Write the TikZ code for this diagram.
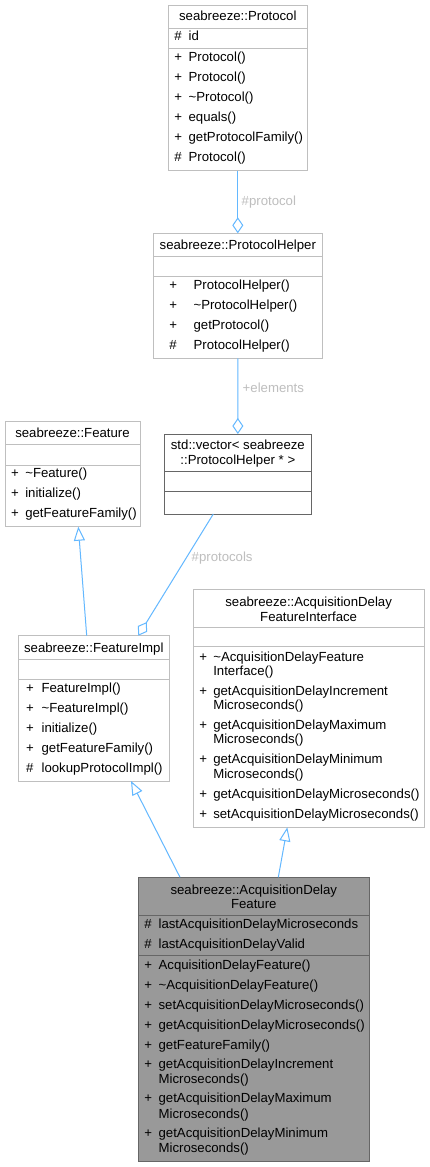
\documentclass[tikz,border=0pt]{standalone}
\usepackage{fontspec}
\setmainfont{Liberation Sans}
\usetikzlibrary{arrows.meta,calc}
\definecolor{bordL}{HTML}{BFBFBF}
\definecolor{bordD}{HTML}{666666}
\definecolor{fillD}{HTML}{999999}
\definecolor{edgeC}{HTML}{63B8FF}
\definecolor{lblC}{HTML}{BEBEBE}
\tikzset{
  txt/.style={font=\fontsize{13.2pt}{14.3pt}\selectfont, inner sep=0pt, outer sep=0pt, text=black},
  lbl/.style={txt, text=lblC, anchor=base west},
  boxL/.style={draw=bordL, line width=1pt, fill=white, rectangle, inner sep=0pt, outer sep=0pt, anchor=north west},
  boxD/.style={boxL, draw=bordD},
  boxF/.style={boxL, draw=bordD, fill=fillD},
  sepL/.style={draw=bordL, line width=1pt},
  sepD/.style={draw=bordD, line width=1pt},
  aggr/.style={draw=edgeC, line width=1pt, -{Diamond[open, length=16pt, width=11pt]}},
  inh/.style={draw=edgeC, line width=1pt, -{Triangle[open, length=14pt, width=11pt]}},
}
\newcommand\mrow[6]{\node[txt, anchor=base west] (#1) at (#2,#4) {\makebox[\dimexpr #3pt - #2pt\relax][l]{#5}#6};}
\newcommand\crow[4]{\node[txt, anchor=base west] (#1) at (#2,#3) {#4};}
\newcommand\ttl[4]{\node[txt, anchor=base] (#1) at (#2,#3) {#4};}
\begin{document}
\begin{tikzpicture}[x=1pt, y=-1pt]
\useasboundingbox (0,0) rectangle (429,1167);
\fill[white] (0,0) rectangle (429,1167);

% ---------- seabreeze::Protocol ----------
\node[boxL, minimum width=139pt, minimum height=165.7pt] (protocol) at (168.3,5) {};
\draw[sepL] (168.3,28.3) -- (307.3,28.3);
\draw[sepL] (168.3,48.3) -- (307.3,48.3);
\ttl{protocol-t}{237.8}{20.7}{seabreeze::Protocol}
\mrow{p-a1}{174.3}{188.6}{40.7}{\#}{id}
\mrow{p-m1}{174.3}{188.6}{61}{+}{Protocol()}
\mrow{p-m2}{174.3}{188.6}{81}{+}{Protocol()}
\mrow{p-m3}{174.3}{188.6}{101}{+}{\textasciitilde Protocol()}
\mrow{p-m4}{174.3}{188.6}{121}{+}{equals()}
\mrow{p-m5}{174.3}{188.6}{141}{+}{getProtocolFamily()}
\mrow{p-m6}{174.3}{188.6}{161}{\#}{Protocol()}

% ---------- seabreeze::ProtocolHelper ----------
\node[boxL, minimum width=169pt, minimum height=125pt] (helper) at (153.3,233.3) {};
\draw[sepL] (153.3,256) -- (322.3,256);
\draw[sepL] (153.3,276) -- (322.3,276);
\ttl{helper-t}{237.8}{249.3}{seabreeze::ProtocolHelper}
\mrow{h-m1}{169.3}{193.6}{289}{+}{ProtocolHelper()}
\mrow{h-m2}{169.3}{193.6}{309}{+}{\textasciitilde ProtocolHelper()}
\mrow{h-m3}{169.3}{193.6}{329}{+}{getProtocol()}
\mrow{h-m4}{169.3}{193.6}{349}{\#}{ProtocolHelper()}

% ---------- seabreeze::Feature ----------
\node[boxL, minimum width=135pt, minimum height=105pt] (feature) at (5,421.7) {};
\draw[sepL] (5,444.3) -- (140,444.3);
\draw[sepL] (5,465) -- (140,465);
\ttl{feature-t}{72.5}{437.6}{seabreeze::Feature}
\mrow{f-m1}{11}{25.3}{477.7}{+}{\textasciitilde Feature()}
\mrow{f-m2}{11}{25.3}{497.7}{+}{initialize()}
\mrow{f-m3}{11}{25.3}{517.7}{+}{getFeatureFamily()}

% ---------- std::vector ----------
\node[boxD, minimum width=147.7pt, minimum height=80pt] (vector) at (164,434) {};
\draw[sepD] (164,471.7) -- (311.7,471.7);
\draw[sepD] (164,491) -- (311.7,491);
\ttl{vector-t1}{237.85}{449.6}{std::vector< seabreeze}
\ttl{vector-t2}{237.85}{464.4}{::ProtocolHelper * >}

% ---------- seabreeze::FeatureImpl ----------
\node[boxL, minimum width=151pt, minimum height=145.3pt] (featureimpl) at (18.3,635.7) {};
\draw[sepL] (18.3,659.3) -- (169.3,659.3);
\draw[sepL] (18.3,679.3) -- (169.3,679.3);
\ttl{featureimpl-t}{93.8}{652.3}{seabreeze::FeatureImpl}
\mrow{fi-m1}{26}{41.6}{692.5}{+}{FeatureImpl()}
\mrow{fi-m2}{26}{41.6}{712.5}{+}{\textasciitilde FeatureImpl()}
\mrow{fi-m3}{26}{41.6}{732.5}{+}{initialize()}
\mrow{fi-m4}{26}{41.6}{752.5}{+}{getFeatureFamily()}
\mrow{fi-m5}{26}{41.6}{772.5}{\#}{lookupProtocolImpl()}

% ---------- seabreeze::AcquisitionDelayFeatureInterface ----------
\node[boxL, minimum width=230.7pt, minimum height=238pt] (iface) at (193.3,589.3) {};
\draw[sepL] (193.3,627.3) -- (424,627.3);
\draw[sepL] (193.3,646.7) -- (424,646.7);
\ttl{iface-t1}{308.65}{606.8}{seabreeze::AcquisitionDelay}
\ttl{iface-t2}{308.65}{621}{FeatureInterface}
\mrow{i-m1}{199.3}{213.3}{661}{+}{\textasciitilde AcquisitionDelayFeature}
\crow{i-m1b}{213.3}{675.3}{Interface()}
\mrow{i-m2}{199.3}{213.3}{695.3}{+}{getAcquisitionDelayIncrement}
\crow{i-m2b}{213.3}{709.6}{Microseconds()}
\mrow{i-m3}{199.3}{213.3}{729.6}{+}{getAcquisitionDelayMaximum}
\crow{i-m3b}{213.3}{743.9}{Microseconds()}
\mrow{i-m4}{199.3}{213.3}{763.9}{+}{getAcquisitionDelayMinimum}
\crow{i-m4b}{213.3}{778.2}{Microseconds()}
\mrow{i-m5}{199.3}{213.3}{798.5}{+}{getAcquisitionDelayMicroseconds()}
\mrow{i-m6}{199.3}{213.3}{818.5}{+}{setAcquisitionDelayMicroseconds()}

% ---------- seabreeze::AcquisitionDelayFeature ----------
\node[boxF, minimum width=231pt, minimum height=284.4pt] (acq) at (138.3,877.3) {};
\draw[sepD] (138.3,915) -- (369.3,915);
\draw[sepD] (138.3,955) -- (369.3,955);
\ttl{acq-t1}{253.8}{894.5}{seabreeze::AcquisitionDelay}
\ttl{acq-t2}{253.8}{908.8}{Feature}
\mrow{a-a1}{144.3}{158.6}{928.7}{\#}{lastAcquisitionDelayMicroseconds}
\mrow{a-a2}{144.3}{158.6}{948.7}{\#}{lastAcquisitionDelayValid}
\mrow{a-m1}{144.3}{158.6}{969.5}{+}{AcquisitionDelayFeature()}
\mrow{a-m2}{144.3}{158.6}{989.5}{+}{\textasciitilde AcquisitionDelayFeature()}
\mrow{a-m3}{144.3}{158.6}{1009.5}{+}{setAcquisitionDelayMicroseconds()}
\mrow{a-m4}{144.3}{158.6}{1029.5}{+}{getAcquisitionDelayMicroseconds()}
\mrow{a-m5}{144.3}{158.6}{1049.5}{+}{getFeatureFamily()}
\mrow{a-m6}{144.3}{158.6}{1068}{+}{getAcquisitionDelayIncrement}
\crow{a-m6b}{158.6}{1083}{Microseconds()}
\mrow{a-m7}{144.3}{158.6}{1102.8}{+}{getAcquisitionDelayMaximum}
\crow{a-m7b}{158.6}{1118}{Microseconds()}
\mrow{a-m8}{144.3}{158.6}{1137.5}{+}{getAcquisitionDelayMinimum}
\crow{a-m8b}{158.6}{1152.5}{Microseconds()}

% ---------- connectors ----------
\draw[aggr] (protocol.south) -- (helper.north);
\draw[aggr] (helper.south) -- (vector.north);
\draw[aggr] ($(vector.south west)+(49.3,0)$) -- ($(featureimpl.north west)+(120,0)$);
\draw[inh] ($(featureimpl.north west)+(68.4,0)$) -- ($(feature.south west)+(73.3,0)$);
\draw[inh] ($(acq.north west)+(41.7,0)$) -- ($(featureimpl.south west)+(112.7,0)$);
\draw[inh] ($(acq.north west)+(140,0)$) -- ($(iface.south west)+(94,0)$);

% ---------- edge labels ----------
\node[lbl] (lbl-protocol) at (241.7,205.2) {\#protocol};
\node[lbl] (lbl-elements) at (242.7,392.8) {+elements};
\node[lbl] (lbl-protocols) at (191.7,561.2) {\#protocols};
\end{tikzpicture}
\end{document}
